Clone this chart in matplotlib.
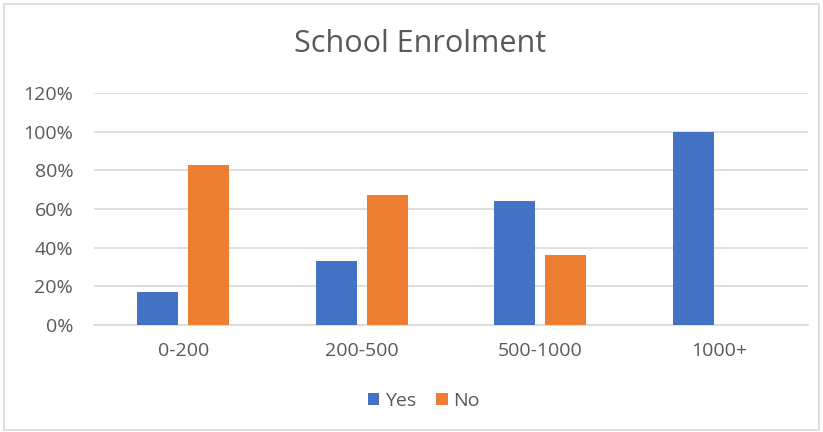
import matplotlib
matplotlib.use("Agg")
import matplotlib.pyplot as plt
from matplotlib.patches import Rectangle
import numpy as np

categories = ["0-200", "200-500", "500-1000", "1000+"]
yes_vals = [17, 33, 64, 100]
no_vals = [83, 67, 36, 0]
yticks = [0, 20, 40, 60, 80, 100, 120]

plt.rcParams['font.family'] = ['Open Sans', 'DejaVu Sans']
fig = plt.figure(figsize=(8.23, 4.32), dpi=100)
fig.patches.append(Rectangle((0.005, 0.005), 0.99, 0.985, transform=fig.transFigure,
                             fill=False, edgecolor='#d9d9d9', linewidth=1.2))
ax = fig.add_axes([0.1142, 0.2477, 0.8676, 0.537])
x = np.arange(len(categories))
w = 0.23
gap = 0.056
ax.bar(x - (w + gap) / 2, yes_vals, w, color='#4472c4', label='Yes', zorder=3)
ax.bar(x + (w + gap) / 2, no_vals, w, color='#ed7d31', label='No', zorder=3)
ax.set_xlim(-0.5, len(categories) - 0.5)
ax.set_ylim(0, 120)
ax.set_yticks(yticks)
ax.set_yticklabels([f"{v}%" for v in yticks])
ax.set_xticks(x)
ax.set_xticklabels(categories)
ax.grid(axis='y', color='#d9d9d9', linewidth=1.2, zorder=0)
for s in ['top', 'right', 'left']:
    ax.spines[s].set_visible(False)
ax.spines['bottom'].set_color('#d9d9d9')
ax.spines['bottom'].set_linewidth(1.2)
ax.tick_params(axis='both', length=0, labelsize=14, colors='#595959')
ax.tick_params(axis='y', pad=15)
ax.tick_params(axis='x', pad=12)
fig.text(0.511, 0.897, "School Enrolment", ha='center', va='center', fontsize=22, color='#595959')
fig.legend(loc='center', bbox_to_anchor=(0.515, 0.072), ncol=2, frameon=False,
           fontsize=14, labelcolor='#595959', handlelength=0.6, handleheight=0.6,
           columnspacing=1.0, handletextpad=0.3)
fig.savefig("out.png", dpi=100)
